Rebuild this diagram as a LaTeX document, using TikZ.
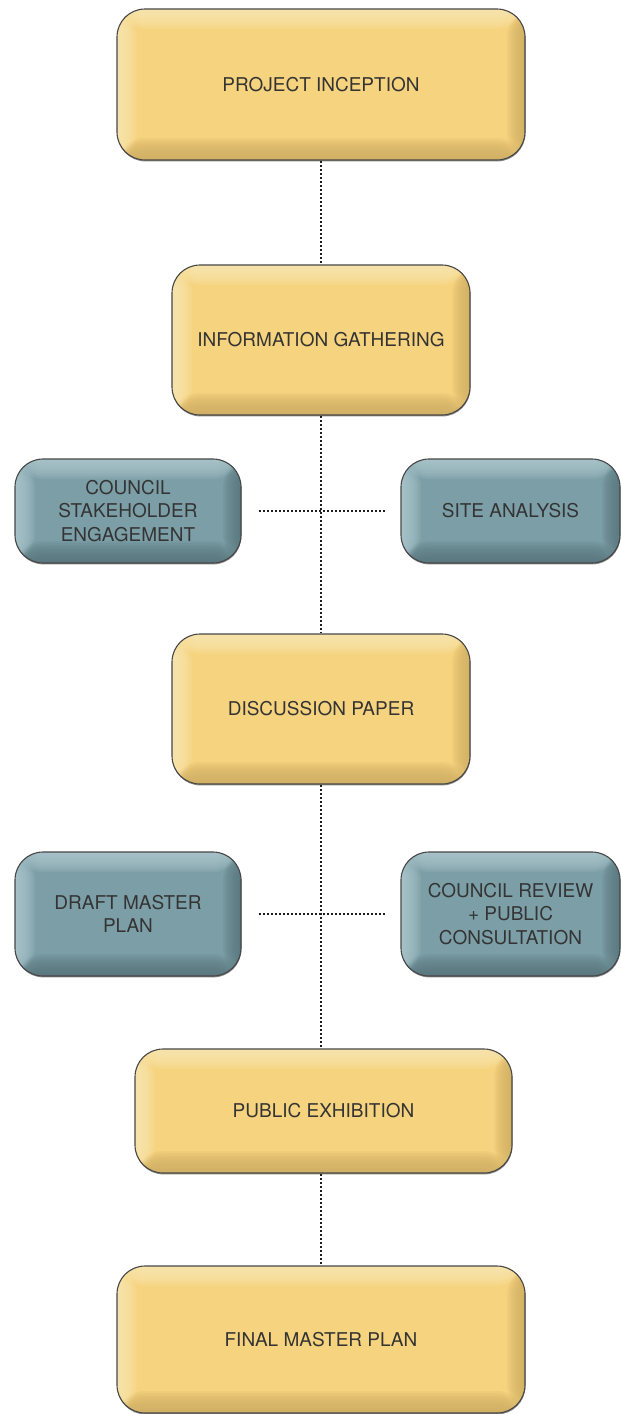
\documentclass[tikz,border=0pt]{standalone}
\usepackage{fontspec}
\setmainfont{TeX Gyre Heros}
\usetikzlibrary{shadows}
\definecolor{ybase}{RGB}{246,211,126}
\definecolor{ylight}{RGB}{252,233,182}
\definecolor{ydark}{RGB}{205,172,98}
\definecolor{tbase}{RGB}{124,159,167}
\definecolor{tlight}{RGB}{176,202,208}
\definecolor{tdark}{RGB}{88,116,124}
\definecolor{textgray}{RGB}{52,52,52}
\definecolor{linegray}{RGB}{30,30,30}
\tikzset{
  bevel/.style 2 args={path picture={
    \foreach \i in {0,...,9}{
      \fill[#1, opacity=0.16] (path picture bounding box.south west) rectangle ([xshift=20pt-2*\i pt]path picture bounding box.north west);
      \fill[#1, opacity=0.16] (path picture bounding box.north west) rectangle ([yshift=-20pt+2*\i pt]path picture bounding box.north east);
      \fill[#2, opacity=0.14] (path picture bounding box.south east) rectangle ([xshift=-18pt+1.8*\i pt]path picture bounding box.north east);
      \fill[#2, opacity=0.16] (path picture bounding box.south west) rectangle ([yshift=22pt-2.2*\i pt]path picture bounding box.south east);
    }
  }},
  stage/.style={rectangle, rounded corners=28pt, draw=black!72, line width=1.1pt,
    align=center, text=textgray, font=\fontsize{19}{23.5}\selectfont, inner sep=0pt,
    drop shadow={shadow xshift=0.4pt, shadow yshift=-1.4pt, fill=black, opacity=0.45}},
  ybox/.style={stage, fill=ybase, bevel={ylight}{ydark}},
  tbox/.style={stage, fill=tbase, bevel={tlight}{tdark}},
  link/.style={draw=linegray, line width=2.3pt, dash pattern=on 2pt off 2pt}
}
\begin{document}
\begin{tikzpicture}[x=1pt,y=-1pt]
\useasboundingbox (0,0) rectangle (621,1414);
\node[ybox, minimum width=408pt, minimum height=151pt] (inc) at (321,84.5) {PROJECT INCEPTION};
\node[ybox, minimum width=298pt, minimum height=150pt] (info) at (321,340) {INFORMATION GATHERING};
\node[tbox, minimum width=226pt, minimum height=104pt] (cse) at (128,511) {COUNCIL\\STAKEHOLDER\\ENGAGEMENT};
\node[tbox, minimum width=219pt, minimum height=104pt] (site) at (510.5,511) {SITE ANALYSIS};
\node[ybox, minimum width=298pt, minimum height=150pt] (disc) at (321,709) {DISCUSSION PAPER};
\node[tbox, minimum width=226pt, minimum height=124pt] (draft) at (128,914) {DRAFT MASTER\\PLAN};
\node[tbox, minimum width=219pt, minimum height=124pt] (rev) at (510.5,914) {COUNCIL REVIEW\\+ PUBLIC\\CONSULTATION};
\node[ybox, minimum width=377pt, minimum height=124pt] (exh) at (323.5,1111) {PUBLIC EXHIBITION};
\node[ybox, minimum width=408pt, minimum height=147pt] (fin) at (321,1339.5) {FINAL MASTER PLAN};
\draw[link] (inc.south) -- (info.north);
\draw[link] (info.south) -- (disc.north);
\draw[link] ([xshift=17pt]cse.east) -- ([xshift=-15pt]site.west);
\draw[link] (disc.south) -- (exh.north -| disc.south);
\draw[link] ([xshift=17pt]draft.east) -- ([xshift=-15pt]rev.west);
\draw[link] (exh.south -| fin.north) -- (fin.north);
\end{tikzpicture}
\end{document}
